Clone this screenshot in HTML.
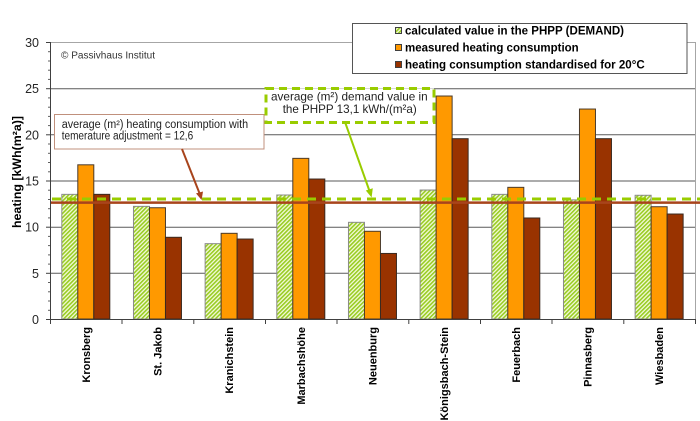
<!DOCTYPE html>
<html><head><meta charset="utf-8"><style>
html,body{margin:0;padding:0;background:#fff;}
svg{display:block;font-family:"Liberation Sans",Arial,sans-serif;}
</style></head><body>
<svg width="700" height="421" viewBox="0 0 700 421" xmlns="http://www.w3.org/2000/svg">
<defs>
<pattern id="h" width="2.9" height="2.9" patternUnits="userSpaceOnUse" patternTransform="rotate(45)">
<rect width="2.9" height="2.9" fill="#f4fadc"/><rect width="1.6" height="2.9" fill="#99cc22"/>
</pattern>
</defs>
<rect width="700" height="421" fill="#fff"/>
<!-- plot borders -->
<line x1="50" y1="42.5" x2="695" y2="42.5" stroke="#a6a6a6" stroke-width="1"/>
<line x1="695.5" y1="42" x2="695.5" y2="319" stroke="#a6a6a6" stroke-width="1"/>
<!-- gridlines -->
<g stroke="#5a5a5a" stroke-width="1">
<line x1="50" y1="88.7" x2="695" y2="88.7"/>
<line x1="50" y1="134.8" x2="695" y2="134.8"/>
<line x1="50" y1="181" x2="695" y2="181"/>
<line x1="50" y1="227.2" x2="695" y2="227.2"/>
<line x1="50" y1="273.3" x2="695" y2="273.3"/>
</g>
<!-- bars -->
<g stroke-width="1">
<g fill="url(#h)" stroke="#8a8a8a">
<rect x="61.8" y="194.35" width="16" height="124.65"/>
<rect x="133.47" y="206.36" width="16" height="112.64"/>
<rect x="205.13" y="243.66" width="16" height="75.34"/>
<rect x="276.8" y="195" width="16" height="124"/>
<rect x="348.47" y="222.33" width="16" height="96.67"/>
<rect x="420.13" y="190.02" width="16" height="128.98"/>
<rect x="491.8" y="194.35" width="16" height="124.65"/>
<rect x="563.47" y="199.89" width="16" height="119.11"/>
<rect x="635.13" y="195.28" width="16" height="123.72"/>
</g>
<g fill="#ff9900" stroke="#4a3a2a">
<rect x="77.8" y="164.81" width="16" height="154.19"/>
<rect x="149.47" y="207.74" width="16" height="111.26"/>
<rect x="221.13" y="233.32" width="16" height="85.68"/>
<rect x="292.8" y="158.35" width="16" height="160.65"/>
<rect x="364.47" y="231.29" width="16" height="87.71"/>
<rect x="436.13" y="96.02" width="16" height="222.98"/>
<rect x="507.8" y="187.34" width="16" height="131.66"/>
<rect x="579.47" y="109.04" width="16" height="209.96"/>
<rect x="651.13" y="206.73" width="16" height="112.27"/>
</g>
<g fill="#993300" stroke="#3a2a20">
<rect x="93.8" y="194.35" width="16" height="124.65"/>
<rect x="165.47" y="237.29" width="16" height="81.71"/>
<rect x="237.13" y="239.04" width="16" height="79.96"/>
<rect x="308.8" y="179.03" width="16" height="139.97"/>
<rect x="380.47" y="253.45" width="16" height="65.55"/>
<rect x="452.13" y="138.68" width="16" height="180.32"/>
<rect x="523.8" y="217.99" width="16" height="101.01"/>
<rect x="595.47" y="138.68" width="16" height="180.32"/>
<rect x="667.13" y="214.02" width="16" height="104.98"/>
</g>
</g>
<!-- average lines -->
<line x1="51" y1="202.6" x2="700" y2="202.6" stroke="#a8441c" stroke-width="2.5"/>
<line x1="52" y1="199" x2="700" y2="199" stroke="#99cc00" stroke-width="3" stroke-dasharray="9 6"/>
<!-- axes -->
<line x1="50.5" y1="42" x2="50.5" y2="319.5" stroke="#404040" stroke-width="1"/>
<line x1="50" y1="319.5" x2="696" y2="319.5" stroke="#404040" stroke-width="1"/>
<g stroke="#404040" stroke-width="1">
<line x1="46" y1="42.5" x2="50" y2="42.5"/>
<line x1="46" y1="88.7" x2="50" y2="88.7"/>
<line x1="46" y1="134.8" x2="50" y2="134.8"/>
<line x1="46" y1="181" x2="50" y2="181"/>
<line x1="46" y1="227.2" x2="50" y2="227.2"/>
<line x1="46" y1="273.3" x2="50" y2="273.3"/>
<line x1="46" y1="319.5" x2="50" y2="319.5"/>
</g>
<g stroke="#606060" stroke-width="1">
<line x1="48" y1="51.7" x2="50" y2="51.7"/><line x1="48" y1="61" x2="50" y2="61"/><line x1="48" y1="70.2" x2="50" y2="70.2"/><line x1="48" y1="79.4" x2="50" y2="79.4"/>
<line x1="48" y1="97.9" x2="50" y2="97.9"/><line x1="48" y1="107.2" x2="50" y2="107.2"/><line x1="48" y1="116.4" x2="50" y2="116.4"/><line x1="48" y1="125.6" x2="50" y2="125.6"/>
<line x1="48" y1="144" x2="50" y2="144"/><line x1="48" y1="153.3" x2="50" y2="153.3"/><line x1="48" y1="162.5" x2="50" y2="162.5"/><line x1="48" y1="171.8" x2="50" y2="171.8"/>
<line x1="48" y1="190.2" x2="50" y2="190.2"/><line x1="48" y1="199.5" x2="50" y2="199.5"/><line x1="48" y1="208.7" x2="50" y2="208.7"/><line x1="48" y1="217.9" x2="50" y2="217.9"/>
<line x1="48" y1="236.4" x2="50" y2="236.4"/><line x1="48" y1="245.6" x2="50" y2="245.6"/><line x1="48" y1="254.9" x2="50" y2="254.9"/><line x1="48" y1="264.1" x2="50" y2="264.1"/>
<line x1="48" y1="282.5" x2="50" y2="282.5"/><line x1="48" y1="291.8" x2="50" y2="291.8"/><line x1="48" y1="301" x2="50" y2="301"/><line x1="48" y1="310.3" x2="50" y2="310.3"/>
</g>
<g stroke="#404040" stroke-width="1">
<line x1="50.5" y1="319" x2="50.5" y2="324"/>
<line x1="122" y1="319" x2="122" y2="324"/>
<line x1="193.8" y1="319" x2="193.8" y2="324"/>
<line x1="265.5" y1="319" x2="265.5" y2="324"/>
<line x1="337" y1="319" x2="337" y2="324"/>
<line x1="408.8" y1="319" x2="408.8" y2="324"/>
<line x1="480.5" y1="319" x2="480.5" y2="324"/>
<line x1="552" y1="319" x2="552" y2="324"/>
<line x1="623.8" y1="319" x2="623.8" y2="324"/>
<line x1="695.5" y1="319" x2="695.5" y2="324"/>
</g>
<!-- y tick labels -->
<g font-size="12.5" fill="#262626" text-anchor="end">
<text x="39" y="47">30</text>
<text x="39" y="93.2">25</text>
<text x="39" y="139.3">20</text>
<text x="39" y="185.5">15</text>
<text x="39" y="231.7">10</text>
<text x="39" y="277.8">5</text>
<text x="39" y="324">0</text>
</g>
<!-- y title -->
<text x="21" y="172" transform="rotate(-90 21 172)" font-size="12" font-weight="bold" fill="#000" text-anchor="middle" textLength="112" lengthAdjust="spacingAndGlyphs">heating [kWh(m²a)]</text>
<!-- category labels -->
<g font-size="11" font-weight="bold" fill="#000" text-anchor="end">
<text transform="translate(90 327) rotate(-90)">Kronsberg</text>
<text transform="translate(161.5 327) rotate(-90)">St. Jakob</text>
<text transform="translate(233.2 327) rotate(-90)">Kranichstein</text>
<text transform="translate(304.8 327) rotate(-90)">Marbachshöhe</text>
<text transform="translate(376.5 327) rotate(-90)">Neuenburg</text>
<text transform="translate(448.2 327) rotate(-90)">Königsbach-Stein</text>
<text transform="translate(519.8 327) rotate(-90)">Feuerbach</text>
<text transform="translate(591.5 327) rotate(-90)">Pinnasberg</text>
<text transform="translate(663.2 327) rotate(-90)">Wiesbaden</text>
</g>
<!-- copyright -->
<text x="61" y="58.3" font-size="10" fill="#333" textLength="94" lengthAdjust="spacingAndGlyphs">© Passivhaus Institut</text>
<!-- annotation 1 -->
<rect x="54.5" y="114.5" width="209.5" height="34.5" fill="#fff" stroke="#c0907c" stroke-width="1"/>
<g font-size="11.5" fill="#222">
<text x="61.7" y="128.2" textLength="186.5" lengthAdjust="spacingAndGlyphs">average (m²) heating consumption with</text>
<text x="61.7" y="139.7" textLength="131.5" lengthAdjust="spacingAndGlyphs">temerature adjustment = 12,6</text>
</g>
<line x1="182" y1="149" x2="199.8" y2="194" stroke="#a8441c" stroke-width="2"/>
<polygon points="201.6,200 196,193.4 203,191.5" fill="#a8441c"/>
<!-- annotation 2 -->
<rect x="266" y="88.5" width="168" height="34" fill="#fff" stroke="#99cc00" stroke-width="3" stroke-dasharray="8 5"/>
<g font-size="12" fill="#222">
<text x="271" y="100.6" textLength="156.7" lengthAdjust="spacingAndGlyphs">average (m²) demand value in</text>
<text x="282.7" y="113" textLength="134" lengthAdjust="spacingAndGlyphs">the PHPP 13,1 kWh/(m²a)</text>
</g>
<line x1="345" y1="122" x2="369.5" y2="191" stroke="#99cc00" stroke-width="2"/>
<polygon points="371.6,197.5 365.8,190.5 372.8,188.3" fill="#99cc00"/>
<!-- legend -->
<rect x="352.5" y="23.5" width="334.5" height="50" fill="#fff" stroke="#555" stroke-width="1"/>
<rect x="395.5" y="27.5" width="6" height="6" fill="url(#h)" stroke="#404040" stroke-width="1"/>
<rect x="395.5" y="44.5" width="6" height="6" fill="#ff9900" stroke="#404040" stroke-width="1"/>
<rect x="395.5" y="61.5" width="6" height="6" fill="#993300" stroke="#404040" stroke-width="1"/>
<g font-size="12" font-weight="bold" fill="#000">
<text x="405" y="34.7" textLength="219" lengthAdjust="spacingAndGlyphs">calculated value in the PHPP (DEMAND)</text>
<text x="405" y="51.6" textLength="173.7" lengthAdjust="spacingAndGlyphs">measured heating consumption</text>
<text x="405" y="68.6" textLength="239.7" lengthAdjust="spacingAndGlyphs">heating consumption standardised for 20°C</text>
</g>
</svg>
</body></html>
